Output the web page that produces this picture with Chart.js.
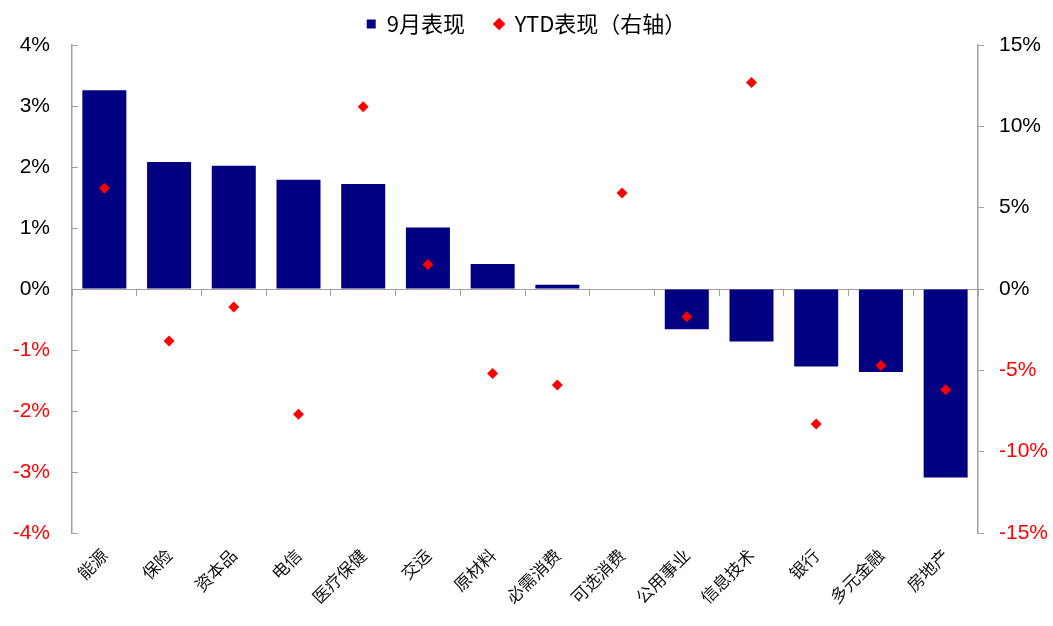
<!DOCTYPE html>
<html>
<head>
<meta charset="utf-8">
<script src="https://cdn.jsdelivr.net/npm/chart.js@4.4.1/dist/chart.umd.min.js"></script>
<style>
  html, body { margin: 0; padding: 0; background: #fff; }
  #wrap { width: 1053px; height: 626px; }
</style>
</head>
<body>
<div id="wrap"><canvas id="c"></canvas></div>
<script>
// Sector performance: September return (left axis) and YTD return (right axis), in %
const categories = ['能源', '保险', '资本品', '电信', '医疗保健', '交运', '原材料', '必需消费', '可选消费', '公用事业', '信息技术', '银行', '多元金融', '房地产'];
const septReturn = [3.26, 2.08, 2.02, 1.79, 1.72, 1.01, 0.41, 0.07, 0.01, -0.66, -0.86, -1.27, -1.36, -3.09];
const ytdReturn = [6.2, -3.2, -1.1, -7.7, 11.2, 1.5, -5.2, -5.9, 5.9, -1.7, 12.7, -8.3, -4.7, -6.2];
const seriesNames = ['9月表现', 'YTD表现（右轴）'];

const AXIS_GRAY = '#a0a0a0';
const NUM_FONT = { family: '"Liberation Sans", Arial, sans-serif', size: 21 };
const CJK_FONT = '"Noto Sans CJK SC", "Noto Sans", sans-serif';
const signColor = (ctx) => (ctx.tick && ctx.tick.value < 0 ? '#ff0000' : '#000000');

new Chart(document.getElementById('c'), {
  data: {
    labels: categories,
    datasets: [
      {
        type: 'bar',
        label: seriesNames[0] + '    ',
        data: septReturn,
        backgroundColor: '#000080',
        borderWidth: 0,
        pointStyle: 'rect',
        barPercentage: 0.68,
        categoryPercentage: 1,
        xAxisID: 'x',
        yAxisID: 'y',
        order: 1
      },
      {
        type: 'line',
        label: seriesNames[1],
        data: ytdReturn,
        showLine: false,
        pointStyle: 'rectRot',
        pointRadius: 5.5,
        pointHoverRadius: 5.5,
        pointBorderWidth: 0,
        pointBackgroundColor: '#ff0000',
        backgroundColor: '#ff0000',
        borderColor: '#ff0000',
        xAxisID: 'x',
        yAxisID: 'y1',
        order: 0
      }
    ]
  },
  options: {
    responsive: true,
    maintainAspectRatio: false,
    animation: false,
    layout: { padding: { top: 3, left: 0, right: 0, bottom: 0 } },
    plugins: {
      tooltip: { enabled: false },
      legend: {
        position: 'top',
        labels: {
          usePointStyle: true,
          boxWidth: 9,
          boxHeight: 9,
          padding: 10,
          color: '#000',
          font: { family: CJK_FONT, size: 22 },
          sort: (a, b) => a.datasetIndex - b.datasetIndex
        }
      }
    },
    scales: {
      x: {
        type: 'category',
        position: 'bottom',
        offset: true,
        grid: { display: false },
        border: { display: false },
        ticks: {
          autoSkip: false,
          minRotation: 45,
          maxRotation: 45,
          padding: 4,
          color: '#111',
          font: { family: CJK_FONT, size: 17 }
        },
        afterFit: (s) => { s.height = 93; }
      },
      x0: {
        type: 'category',
        position: { y: 0 },
        offset: true,
        grid: { display: true, offset: true, drawOnChartArea: false, tickLength: 6, color: AXIS_GRAY, lineWidth: 1 },
        border: { display: true, color: AXIS_GRAY, width: 1 },
        ticks: { display: false }
      },
      y: {
        position: 'left',
        min: -4,
        max: 4,
        ticks: {
          stepSize: 1,
          padding: 28,
          color: signColor,
          font: NUM_FONT,
          callback: (v) => v + '%'
        },
        grid: { display: true, drawOnChartArea: false, tickLength: -6, color: AXIS_GRAY },
        border: { display: true, color: AXIS_GRAY, width: 1.5 },
        afterFit: (s) => { s.width = 72; }
      },
      y1: {
        position: 'right',
        min: -15,
        max: 15,
        ticks: {
          stepSize: 5,
          padding: 15,
          color: signColor,
          font: NUM_FONT,
          callback: (v) => v + '%'
        },
        grid: { display: true, drawOnChartArea: false, tickLength: 6, color: AXIS_GRAY },
        border: { display: true, color: AXIS_GRAY, width: 1.5 },
        afterFit: (s) => { s.width = 75; }
      }
    }
  }
});
</script>
</body>
</html>
